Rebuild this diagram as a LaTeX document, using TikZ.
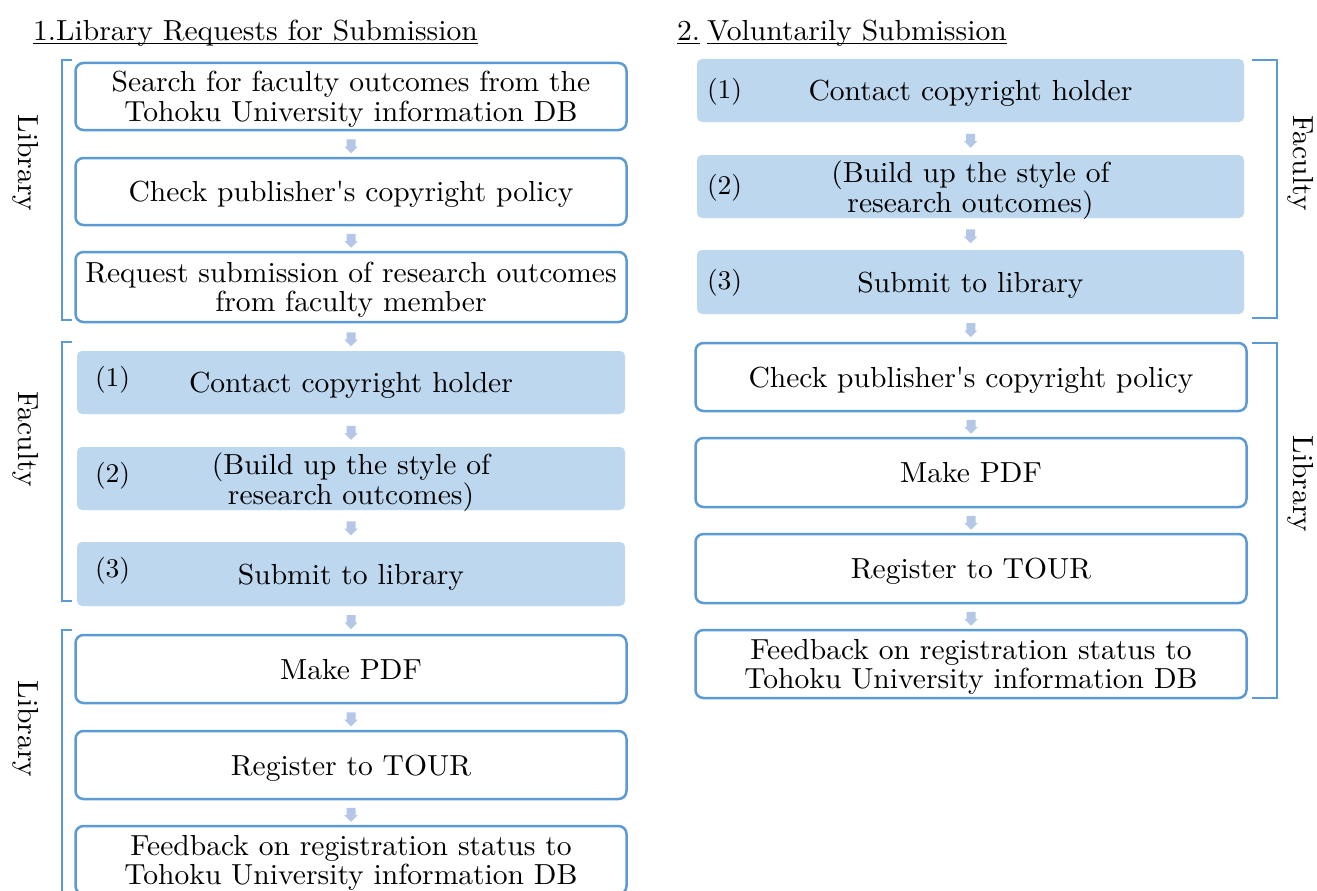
\documentclass[tikz,border=0pt]{standalone}
\usepackage{fontspec}
\setmainfont{lmroman10-regular}[Extension=.otf, FakeStretch=1.02]
\usetikzlibrary{shapes.arrows,calc}
\definecolor{bord}{HTML}{5B9BD5}
\definecolor{fillb}{HTML}{BDD7EE}
\definecolor{arr}{HTML}{B4C7E7}
\newcommand\oneL[1]{\raisebox{0pt}[20pt][0pt]{#1}}
\newcommand\twoL[2]{\raisebox{0pt}[20pt][29pt]{\begin{tabular}[t]{@{}c@{}}#1\\#2\end{tabular}}}
\tikzset{
  every node/.style={inner sep=0pt, font=\fontsize{29}{29}\selectfont},
  wbox/.style={draw=bord, line width=2.5pt, rounded corners=8pt, fill=white, minimum width=551pt, align=center},
  bbox/.style={fill=fillb, rounded corners=5pt, minimum width=548pt, align=center},
  num/.style={font=\fontsize{27}{27}\selectfont, anchor=west},
  flow/.style={single arrow, fill=arr, draw=none, inner sep=4.3pt, minimum height=14pt,
               single arrow head extend=2.2pt, single arrow head indent=0pt, rotate=-90},
  side/.style={rotate=-90},
  brk/.style={draw=bord, line width=1.3pt},
  uline/.style={draw=black, line width=1.6pt}
}
\begin{document}
\begin{tikzpicture}[x=1pt,y=-1pt]
\useasboundingbox (0,0) rectangle (1317,891);
\clip (0,0) rectangle (1317,891);
\fill[white] (0,0) rectangle (1317,891);

% titles
\node[anchor=base west] (t1) at (33,41) {1.Library Requests for Submission};
\draw[uline] ($(t1.base west)+(0,2.5)$) -- ($(t1.base east)+(0,2.5)$);
\node[anchor=base west] (t2a) at (677,41) {2.};
\draw[uline] ($(t2a.base west)+(0,2.5)$) -- ($(t2a.base east)+(0,2.5)$);
\node[anchor=base west] (t2b) at (707,41) {Voluntarily Submission};
\draw[uline] ($(t2b.base west)+(0,2.5)$) -- ($(t2b.base east)+(0,2.5)$);

% left column
\node[wbox, minimum height=67pt] (L1) at (351,96.5) {\twoL{Search for faculty outcomes from the}{Tohoku University information DB}};
\node[wbox, minimum height=67pt] (L2) at (351,191.5) {\oneL{Check publisher\textquotesingle s copyright policy}};
\node[wbox, minimum height=70pt] (L3) at (351,287) {\twoL{Request submission of research outcomes}{from faculty member}};
\node[bbox, minimum height=63pt] (F1) at (351,382.5) {\oneL{Contact copyright holder}};
\node[bbox, minimum height=63pt] (F2) at (351,478.5) {\twoL{(Build up the style of}{research outcomes)}};
\node[bbox, minimum height=64pt] (F3) at (351,574) {\oneL{Submit to library}};
\node[wbox, minimum height=68pt] (L4) at (351,669) {\oneL{Make PDF}};
\node[wbox, minimum height=68pt] (L5) at (351,765) {\oneL{Register to TOUR}};
\node[wbox, minimum height=68pt] (L6) at (351,860) {\twoL{Feedback on registration status to}{Tohoku University information DB}};

\node[num] (n1) at ($(F1.west)+(18,-3)$) {(1)};
\node[num] (n2) at ($(F2.west)+(18,-3)$) {(2)};
\node[num] (n3) at ($(F3.west)+(18,-3)$) {(3)};

\path (L1.south) -- node[flow] (a1) {} (L2.north);
\path (L2.south) -- node[flow] (a2) {} (L3.north);
\path (L3.south) -- node[flow] (a3) {} (F1.north);
\path (F1.south) -- node[flow] (a4) {} (F2.north);
\path (F2.south) -- node[flow] (a5) {} (F3.north);
\path (F3.south) -- node[flow] (a6) {} (L4.north);
\path (L4.south) -- node[flow] (a7) {} (L5.north);
\path (L5.south) -- node[flow] (a8) {} (L6.north);

% right column
\node[bbox, minimum width=547pt, minimum height=63pt] (R1) at (970.5,90.5) {\oneL{Contact copyright holder}};
\node[bbox, minimum width=547pt, minimum height=63pt] (R2) at (970.5,186.5) {\twoL{(Build up the style of}{research outcomes)}};
\node[bbox, minimum width=547pt, minimum height=64pt] (R3) at (970.5,282) {\oneL{Submit to library}};
\node[wbox, minimum height=68pt] (R4) at (971,377) {\oneL{Check publisher\textquotesingle s copyright policy}};
\node[wbox, minimum height=69pt] (R5) at (971,472.5) {\oneL{Make PDF}};
\node[wbox, minimum height=69pt] (R6) at (971,568.5) {\oneL{Register to TOUR}};
\node[wbox, minimum height=68pt] (R7) at (971,664) {\twoL{Feedback on registration status to}{Tohoku University information DB}};

\node[num] (m1) at ($(R1.west)+(10,1)$) {(1)};
\node[num] (m2) at ($(R2.west)+(10,1)$) {(2)};
\node[num] (m3) at ($(R3.west)+(10,1)$) {(3)};

\path (R1.south) -- node[flow] (b1) {} (R2.north);
\path (R2.south) -- node[flow] (b2) {} (R3.north);
\path (R3.south) -- node[flow] (b3) {} (R4.north);
\path (R4.south) -- node[flow] (b4) {} (R5.north);
\path (R5.south) -- node[flow] (b5) {} (R6.north);
\path (R6.south) -- node[flow] (b6) {} (R7.north);

% brackets
\draw[brk] (72,60) -- (62,60) -- (62,320) -- (72,320);
\draw[brk] (72,342) -- (62,342) -- (62,601) -- (72,601);
\draw[brk] (72,630) -- (62,630) -- (62,900);
\draw[brk] (1252,60) -- (1277,60) -- (1277,318) -- (1252,318);
\draw[brk] (1252,343) -- (1277,343) -- (1277,698) -- (1252,698);

% side labels
\node[side] (s1) at (26,163) {Library};
\node[side] (s2) at (26,439) {Faculty};
\node[side] (s3) at (26,729) {Library};
\node[side] (s4) at (1301,163) {Faculty};
\node[side] (s5) at (1301,484) {Library};
\end{tikzpicture}
\end{document}
